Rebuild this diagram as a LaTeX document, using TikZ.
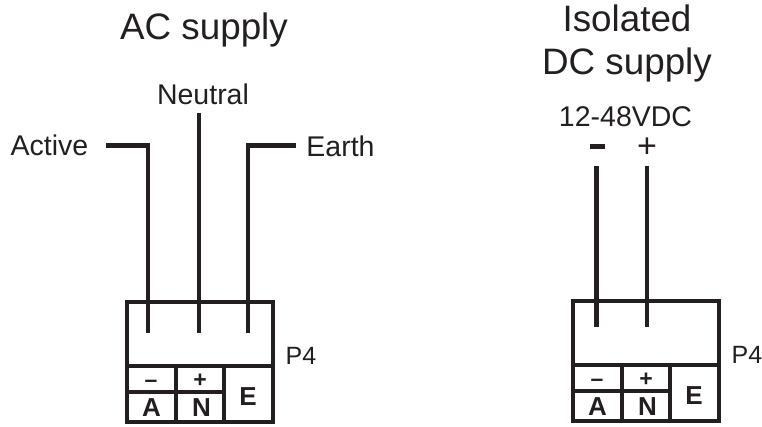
\documentclass[tikz,border=0pt]{standalone}
\usepackage{fontspec}
\setmainfont{Liberation Sans}
\usepackage{tikz}
\definecolor{WireBlack}{RGB}{35,31,32}
\begin{document}
\begin{tikzpicture}[x=1pt,y=-1pt,line cap=butt,
  wire/.style={draw=WireBlack,line width=4.4pt},
  frame/.style={draw=WireBlack,line width=4pt},
  lbl/.style={inner sep=0pt,anchor=base,text=WireBlack,font=\fontsize{28.5}{28.5}\selectfont},
  title/.style={inner sep=0pt,anchor=base,text=WireBlack,font=\fontsize{36.8}{36.8}\selectfont},
  term/.style={inner sep=0pt,anchor=base,text=WireBlack,font=\fontsize{26}{26}\selectfont\bfseries},
  pol/.style={inner sep=0pt,anchor=base,text=WireBlack,font=\fontsize{23}{23}\selectfont\bfseries}]
\useasboundingbox (0,0) rectangle (762,427);
\node[title] (titleAC) at (204,39.5) {AC supply};
\node[title] (titleIso) at (627,32) {Isolated};
\node[title] (titleDC) at (627,75) {DC supply};
\node[lbl] (lblNeutral) at (203,105) {Neutral};
\node[lbl] (lblActive) at (49.5,156) {Active};
\node[lbl] (lblEarth) at (340.5,156.5) {Earth};
\node[lbl] (lblVolt) at (625.5,127) {12-48VDC};
\node[inner sep=0pt,fill=WireBlack,minimum width=15pt,minimum height=5pt] (lblMinus) at (597.5,147) {};
\node[inner sep=0pt,anchor=base,text=WireBlack,font=\fontsize{34}{34}\selectfont] (lblPlus) at (647,158) {+};
% terminal blocks
\foreach \bx/\by/\nm in {127/302/L,573/301/R} {
  \begin{scope}[shift={(\bx,\by)}]
    \coordinate (c\nm tl) at (0,0);
    \coordinate (c\nm br) at (146,120);
    \draw[frame] (c\nm tl) rectangle (c\nm br);
    \draw[frame] (0,64) -- (146,64);
    \draw[frame] (0,90) -- (97,90);
    \draw[frame] (49,64) -- (49,120);
    \draw[frame] (97,64) -- (97,120);
    \node[pol] (minus\nm) at (24,85) {–};
    \node[pol] (plus\nm) at (73,85) {+};
    \node[term] (termA\nm) at (24.5,114) {A};
    \node[term] (termN\nm) at (74.5,114) {N};
    \node[term] (termE\nm) at (121,103) {E};
    \node[inner sep=0pt,anchor=base,text=WireBlack,font=\fontsize{25}{25}\selectfont] (pf\nm) at (174,62) {P4};
  \end{scope}
}
% wires
\coordinate (activeEnd) at (106,145.5);
\coordinate (activePin) at (148,333);
\coordinate (neutralEnd) at (199,113.5);
\coordinate (neutralPin) at (199,333);
\coordinate (earthEnd) at (295.5,145.5);
\coordinate (earthPin) at (248,333);
\coordinate (negEnd) at (596.5,166);
\coordinate (negPin) at (596.5,327);
\coordinate (posEnd) at (647,166);
\coordinate (posPin) at (647,327);
\draw[wire] (activeEnd) -| (activePin);
\draw[wire] (neutralEnd) -- (neutralPin);
\draw[wire] (earthEnd) -| (earthPin);
\draw[wire] (negEnd) -- (negPin);
\draw[wire] (posEnd) -- (posPin);
\end{tikzpicture}
\end{document}
